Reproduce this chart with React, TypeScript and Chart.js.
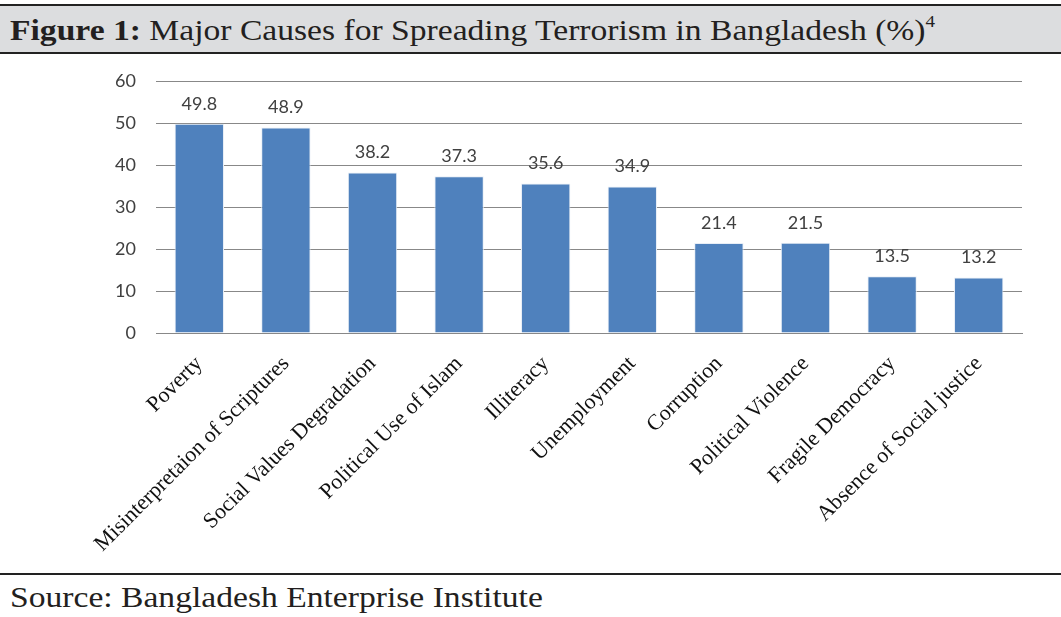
import React, { useEffect, useRef } from "react";
import { Chart, registerables } from "chart.js";

Chart.register(...registerables);

const categories = [
  "Poverty",
  "Misinterpretaion of Scriptures",
  "Social Values Degradation",
  "Political Use of Islam",
  "Illiteracy",
  "Unemployment",
  "Corruption",
  "Political Violence",
  "Fragile Democracy",
  "Absence of Social justice",
];
const values = [49.8, 48.9, 38.2, 37.3, 35.6, 34.9, 21.4, 21.5, 13.5, 13.2];
const valueLabels = ["49.8", "48.9", "38.2", "37.3", "35.6", "34.9", "21.4", "21.5", "13.5", "13.2"];

const dataLabelPlugin = {
  id: "dataLabels",
  afterDatasetsDraw(chart: any) {
    const ctx = chart.ctx;
    const meta = chart.getDatasetMeta(0);
    ctx.save();
    ctx.font = "18px Lato, 'Open Sans', sans-serif";
    ctx.fillStyle = "#404040";
    ctx.textAlign = "center";
    ctx.textBaseline = "middle";
    meta.data.forEach((el: any, i: number) => {
      ctx.fillText(valueLabels[i], el.x, el.y - 20);
    });
    ctx.restore();
  },
};

function BarChart() {
  const ref = useRef<HTMLCanvasElement>(null);
  useEffect(() => {
    if (!ref.current) return;
    const chart = new Chart(ref.current, {
      type: "bar",
      data: {
        labels: categories,
        datasets: [
          {
            data: values,
            backgroundColor: "#4F81BD",
            borderColor: "#E8EEF6",
            borderWidth: 1,
            barPercentage: 0.57,
            categoryPercentage: 1,
          },
        ],
      },
      options: {
        animation: false,
        responsive: false,
        maintainAspectRatio: false,
        layout: { padding: { top: 26, right: 39, left: 0, bottom: 0 } },
        plugins: { legend: { display: false }, tooltip: { enabled: false }, title: { display: false } },
        scales: {
          x: {
            grid: { display: false, drawTicks: false },
            border: { display: true, color: "#888888", width: 1 },
            ticks: {
              autoSkip: false,
              maxRotation: 45,
              minRotation: 45,
              padding: 18,
              color: "#111111",
              font: { family: "'Liberation Serif', 'Times New Roman', serif", size: 22 },
            },
            afterFit: (s: any) => {
              s.height = 239;
            },
          },
          y: {
            min: 0,
            max: 60,
            ticks: {
              stepSize: 10,
              padding: 20,
              color: "#404040",
              font: { family: "Lato, 'Open Sans', sans-serif", size: 18 },
            },
            grid: { color: "#888888", drawTicks: false, lineWidth: 1 },
            border: { display: false },
            afterFit: (s: any) => {
              s.width = 156;
              s.paddingTop = 0;
              s.paddingBottom = 0;
            },
          },
        },
      },
      plugins: [dataLabelPlugin],
    });
    return () => chart.destroy();
  }, []);
  return <canvas ref={ref} width={1061} height={517} style={{ position: "absolute", left: 0, top: 55, width: 1061, height: 517 }} />;
}

export default function App() {
  useEffect(() => {
    document.body.style.margin = "0";
  }, []);
  const serif = "'Liberation Serif', 'Times New Roman', serif";
  return (
    <div style={{ position: "relative", width: 1061, height: 617, background: "#fff", overflow: "hidden" }}>
      <div style={{ position: "absolute", left: 0, top: 4, width: 1061, height: 2, background: "#222" }} />
      <div style={{ position: "absolute", left: 0, top: 6, width: 1061, height: 46, background: "#DCDDDF" }} />
      <div style={{ position: "absolute", left: 0, top: 52, width: 1061, height: 2, background: "#222" }} />
      <div
        style={{
          position: "absolute",
          left: 10,
          top: 15,
          fontFamily: serif,
          fontSize: 30,
          lineHeight: "30px",
          color: "#231F20",
          whiteSpace: "nowrap",
          transform: "scaleX(1.12)",
          transformOrigin: "0 0",
        }}
      >
        <b>Figure 1:</b> Major Causes for Spreading Terrorism in Bangladesh (%)
        <sup style={{ fontSize: 17, verticalAlign: "top", lineHeight: "17px", position: "relative", top: -2 }}>4</sup>
      </div>
      <BarChart />
      <div style={{ position: "absolute", left: 0, top: 573, width: 1061, height: 2, background: "#222" }} />
      <div
        style={{
          position: "absolute",
          left: 10,
          top: 582,
          fontFamily: serif,
          fontSize: 30,
          lineHeight: "30px",
          color: "#231F20",
          whiteSpace: "nowrap",
          transform: "scaleX(1.12)",
          transformOrigin: "0 0",
        }}
      >
        Source: Bangladesh Enterprise Institute
      </div>
    </div>
  );
}
